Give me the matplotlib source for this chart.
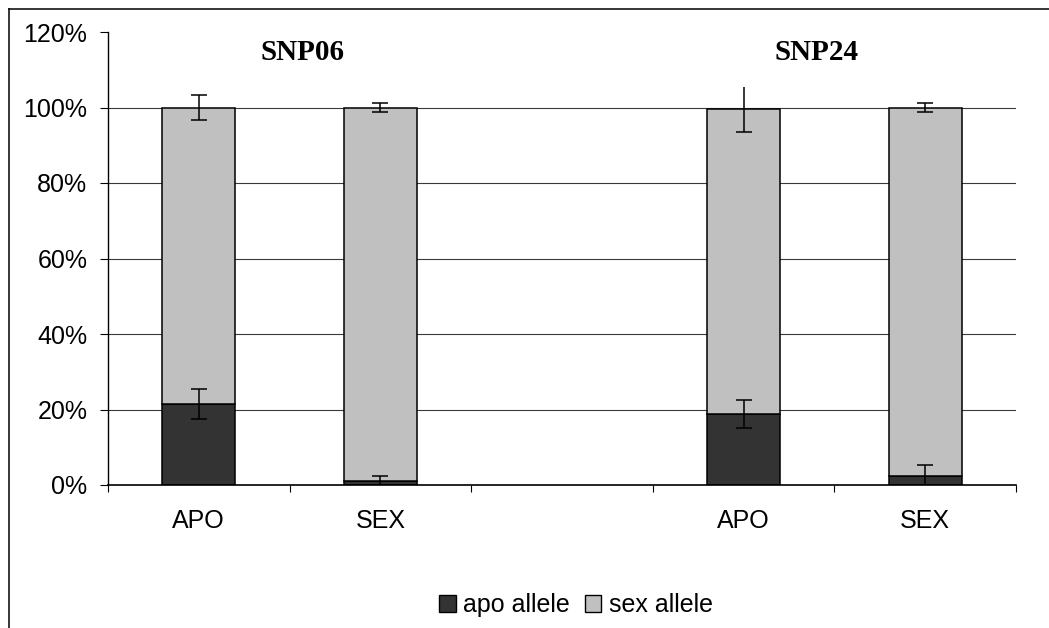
import numpy as np
import matplotlib
matplotlib.use("Agg")
import matplotlib.pyplot as plt
from matplotlib.lines import Line2D
from matplotlib.patches import Patch
from matplotlib.ticker import FuncFormatter

# ---- data ----
categories = ["APO", "SEX", "", "APO", "SEX"]
positions = [0, 1, 3, 4]
bar_labels = ["APO", "SEX", "APO", "SEX"]
apo_allele = [21.4, 1.0, 18.9, 2.4]
sex_allele = [78.6, 99.0, 80.6, 97.6]
apo_err = [3.9, 1.4, 3.7, 2.8]
sex_err = [3.2, 1.3, 6.0, 1.3]
groups = ["SNP06", "SNP24"]
group_x = [0.57, 3.40]
y_ticks = [0, 20, 40, 60, 80, 100, 120]

dark = "#333333"
light = "#c0c0c0"

plt.rcParams["font.family"] = ["Liberation Sans", "DejaVu Sans"]

fig = plt.figure(figsize=(10.49, 6.28), dpi=100)
ax = fig.add_axes([108/1049, 1-485/628, (1016-108)/1049, (485-32)/628])

ax.set_ylim(0, 120)
ax.set_xlim(-0.5, len(categories) - 0.5)

# gridlines
for yv in y_ticks[1:-1]:
    ax.axhline(yv, color="#3a3a3a", lw=0.8, zorder=0)

w = 0.4
ax.bar(positions, apo_allele, width=w, color=dark, edgecolor="black", lw=1.1, zorder=2)
ax.bar(positions, sex_allele, width=w, bottom=apo_allele, color=light, edgecolor="black", lw=1.1, zorder=2)

tops = [a + s for a, s in zip(apo_allele, sex_allele)]
ax.errorbar(positions, apo_allele, yerr=apo_err, fmt="none", ecolor="black",
            elinewidth=1.1, capsize=5.8, capthick=1.1, zorder=3)
# sex allele error bars (the third has no upper cap in the original)
for i, (p, t, e) in enumerate(zip(positions, tops, sex_err)):
    if i == 2:
        ax.errorbar([p], [t], yerr=[e], fmt="none", ecolor="black",
                    elinewidth=1.1, capsize=0, zorder=3)
        ax.plot([p], [t - e], marker="_", markersize=11.6, mew=1.1, color="black", zorder=3)
    else:
        ax.errorbar([p], [t], yerr=[e], fmt="none", ecolor="black",
                    elinewidth=1.1, capsize=5.8, capthick=1.1, zorder=3)

# axes styling
for s in ["top", "right"]:
    ax.spines[s].set_visible(False)
ax.spines["left"].set_color("black")
ax.spines["bottom"].set_color("black")
ax.spines["left"].set_linewidth(1.0)
ax.spines["bottom"].set_linewidth(1.2)

ax.set_yticks(y_ticks)
ax.yaxis.set_major_formatter(FuncFormatter(lambda v, p: f"{int(v)}%"))
ax.tick_params(axis="y", length=5.8, width=0.8, pad=9, labelsize=18)

ax.set_xticks(np.arange(-0.5, len(categories), 1.0))
ax.set_xticklabels([])
ax.set_xticks(np.arange(len(categories)), minor=True)
ax.set_xticklabels(categories, minor=True)
ax.tick_params(axis="x", which="major", length=5, width=0.8)
ax.tick_params(axis="x", which="minor", length=0, pad=17.5, labelsize=18)

for g, gx in zip(groups, group_x):
    ax.text(gx, 114.6, g, ha="center", va="center", fontsize=21,
            fontweight="bold", family=["Liberation Serif", "DejaVu Serif"])

handles = [Patch(facecolor=dark, edgecolor="black", lw=1.0, label="apo allele"),
           Patch(facecolor=light, edgecolor="black", lw=1.0, label="sex allele")]
fig.legend(handles=handles, loc="center", bbox_to_anchor=(576/1049, 1-605/628),
           ncol=2, frameon=False, fontsize=18, handlelength=0.65, handleheight=0.65,
           handletextpad=0.3, columnspacing=0.6)

# outer chart frame (left and top edges visible)
fig.add_artist(Line2D([9/1049, 9/1049], [0, 1-9/628], transform=fig.transFigure, color="black", lw=1.1))
fig.add_artist(Line2D([9/1049, 1], [1-9/628, 1-9/628], transform=fig.transFigure, color="black", lw=1.1))

fig.savefig("out.png", dpi=100)
